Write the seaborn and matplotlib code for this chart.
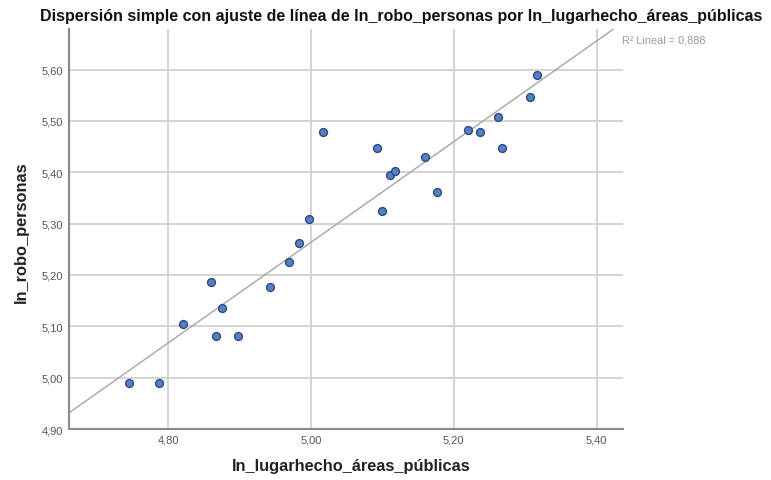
import matplotlib
matplotlib.use("Agg")
import matplotlib.pyplot as plt
import seaborn as sns
import pandas as pd

# Data
ln_lugarhecho = [4.745, 4.787, 4.821, 4.860, 4.875, 4.867, 4.898, 4.942,
                 4.969, 4.983, 4.997, 5.017, 5.093, 5.100, 5.111, 5.117,
                 5.159, 5.176, 5.220, 5.237, 5.262, 5.267, 5.307, 5.317]
ln_robo = [4.989, 4.989, 5.105, 5.187, 5.135, 5.082, 5.082, 5.176,
           5.226, 5.263, 5.309, 5.478, 5.447, 5.324, 5.394, 5.403,
           5.430, 5.362, 5.482, 5.478, 5.507, 5.448, 5.547, 5.589]

x_ticks = [4.80, 5.00, 5.20, 5.40]
x_tick_labels = ["4,80", "5,00", "5,20", "5,40"]
y_ticks = [4.90, 5.00, 5.10, 5.20, 5.30, 5.40, 5.50, 5.60]
y_tick_labels = ["4,90", "5,00", "5,10", "5,20", "5,30", "5,40", "5,50", "5,60"]

title = "Dispersión simple con ajuste de línea de ln_robo_personas por ln_lugarhecho_áreas_públicas"
x_name = "ln_lugarhecho_áreas_públicas"
y_name = "ln_robo_personas"
r2_label = "R² Lineal = 0,888"

df = pd.DataFrame({x_name: ln_lugarhecho, y_name: ln_robo})

sns.set_theme(style="white")
plt.rcParams['font.family'] = ['Liberation Sans', 'DejaVu Sans']

fig, ax = plt.subplots(figsize=(7.71, 4.81), dpi=100)
fig.subplots_adjust(left=69/771, right=623/771, top=1-30/481, bottom=1-430/481)

ax.set_xlim(4.661, 5.437)
ax.set_ylim(4.90, 5.679)
ax.set_xticks(x_ticks)
ax.set_xticklabels(x_tick_labels)
ax.set_yticks(y_ticks)
ax.set_yticklabels(y_tick_labels)
ax.grid(True, color='#d3d3d3', linewidth=1.4)
ax.set_axisbelow(True)

sns.regplot(data=df, x=x_name, y=y_name, ax=ax, ci=None, truncate=False,
            color='#5580c2',
            scatter_kws=dict(s=32, edgecolor='#2b4a80', linewidths=1.0,
                             alpha=1, zorder=3),
            line_kws=dict(color='#a5a5a5', linewidth=1.0, zorder=2))

for side in ['top', 'right']:
    ax.spines[side].set_visible(False)
for side in ['left', 'bottom']:
    ax.spines[side].set_color('#8a8a8a')
    ax.spines[side].set_linewidth(1.5)

ax.tick_params(axis='both', length=0, labelsize=8, labelcolor='#555555', pad=4)

ax.set_xlabel(x_name, fontsize=11.8, fontweight='bold', color='#222222')
ax.set_ylabel(y_name, fontsize=11.8, fontweight='bold', color='#222222')
ax.xaxis.set_label_coords((351-69)/554, (430-467)/400)
ax.xaxis.label.set_va('center')
ax.yaxis.set_label_coords((21-69)/554, (430-232)/400)
ax.yaxis.label.set_va('center')

fig.text(401/771, 1-17/481, title, ha='center', va='center',
         fontsize=11.5, fontweight='bold', color='#111111')
fig.text(622/771, 1-41/481, r2_label, ha='left', va='center',
         fontsize=7.8, color='#9a9a9a')

fig.savefig("out.png", dpi=100)
